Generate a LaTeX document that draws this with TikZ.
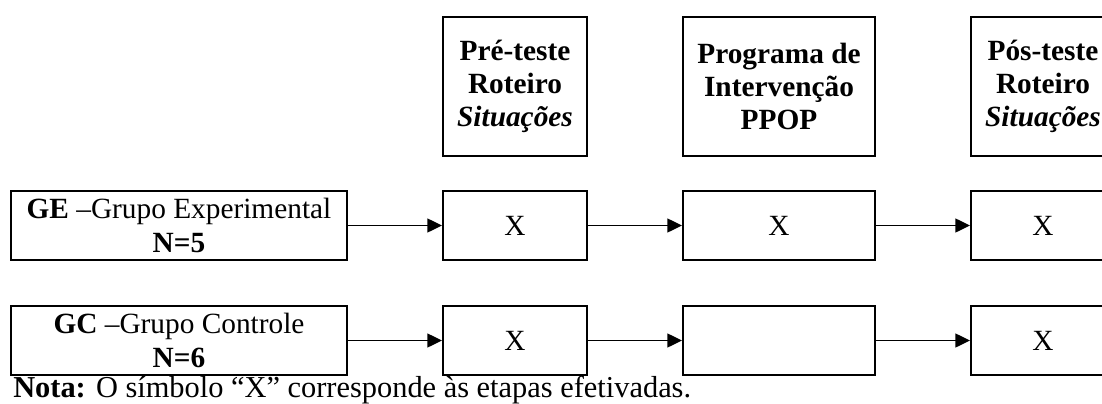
\documentclass[tikz,border=0pt]{standalone}
\usepackage{fontspec}
\setmainfont{Liberation Serif}
\usetikzlibrary{arrows.meta}

\begin{document}
\begin{tikzpicture}[
    x=0.75pt, y=-0.75pt,
    node distance=198pt,
    box/.style={rectangle, draw, line width=1.5pt, minimum width=108pt, minimum height=51.75pt, align=center, inner sep=2pt, font=\fontsize{22}{24.5}\selectfont},
    head/.style={box, minimum height=104.25pt, font=\fontsize{22}{24.5}\selectfont\bfseries},
    group/.style={box, minimum width=252pt, font=\fontsize{22}{26}\selectfont},
    arrow/.style={->, >={Triangle[length=11pt, width=10.5pt]}, line width=1pt}
]
    \useasboundingbox (0,0) rectangle (1102,403);

    % Etapas
    \node[head] (pre) at (515,86.5) {Pré-teste\\Roteiro\\\textit{Situações}};
    \node[head, right of=pre, minimum width=144pt] (prog) {Programa de\\Intervenção\\PPOP};
    \node[head, right of=prog] (pos) {Pós-teste\\Roteiro\\\textit{Situações}};

    % Grupo experimental
    \node[box, below of=pre, node distance=104.25pt] (preGE) {X};
    \node[box, below of=prog, node distance=104.25pt, minimum width=144pt] (progGE) {X};
    \node[box, below of=pos, node distance=104.25pt] (posGE) {X};
    \node[group, left of=preGE, node distance=252pt] (GE) {\textbf{GE} –Grupo Experimental\\\textbf{N=5}};

    % Grupo controle
    \node[box, below of=preGE, node distance=86.25pt] (preGC) {X};
    \node[box, below of=progGE, node distance=86.25pt, minimum width=144pt] (progGC) {};
    \node[box, below of=posGE, node distance=86.25pt] (posGC) {X};
    \node[group, below of=GE, node distance=86.25pt] (GC) {\textbf{GC} –Grupo Controle\\\textbf{N=6}};

    % Nota
    \node[anchor=base west, inner sep=0pt, font=\fontsize{22.8}{24}\selectfont] (nota) at (13,397) {\textbf{Nota:} O símbolo “X” corresponde às etapas efetivadas.};

    % Arrows
    \draw[arrow] (GE) -- (preGE);
    \draw[arrow] (preGE) -- (progGE);
    \draw[arrow] (progGE) -- (posGE);
    \draw[arrow] (GC) -- (preGC);
    \draw[arrow] (preGC) -- (progGC);
    \draw[arrow] (progGC) -- (posGC);

\end{tikzpicture}
\end{document}
